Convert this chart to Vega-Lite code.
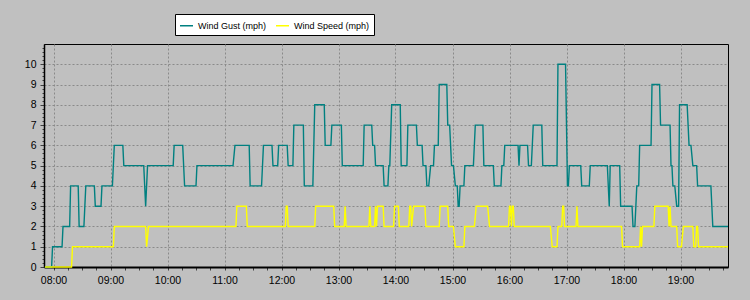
{
  "$schema": "https://vega.github.io/schema/vega-lite/v6.json",
  "width": 684,
  "height": 223,
  "autosize": {"type": "none"},
  "padding": {"left": 44, "top": 44, "right": 22, "bottom": 33},
  "background": "#c0c0c0",
  "config": {
    "view": {"stroke": "#000000", "strokeWidth": 1, "fill": "#c0c0c0"},
    "font": "Liberation Sans"
  },
  "datasets": {
    "gust": [
      {"t":"2024-01-01T07:51","v":0},{"t":"2024-01-01T07:58","v":0},{"t":"2024-01-01T07:59","v":1},{"t":"2024-01-01T08:09","v":1},{"t":"2024-01-01T08:10","v":2},{"t":"2024-01-01T08:17","v":2},{"t":"2024-01-01T08:18","v":4},{"t":"2024-01-01T08:26","v":4},{"t":"2024-01-01T08:27","v":2},{"t":"2024-01-01T08:32","v":2},{"t":"2024-01-01T08:33","v":3},{"t":"2024-01-01T08:34","v":4},{"t":"2024-01-01T08:43","v":4},{"t":"2024-01-01T08:44","v":3},{"t":"2024-01-01T08:50","v":3},{"t":"2024-01-01T08:51","v":4},{"t":"2024-01-01T09:02","v":4},{"t":"2024-01-01T09:04","v":6},{"t":"2024-01-01T09:13","v":6},{"t":"2024-01-01T09:14","v":5},{"t":"2024-01-01T09:35","v":5},{"t":"2024-01-01T09:36","v":4},{"t":"2024-01-01T09:37","v":3},{"t":"2024-01-01T09:39","v":5},{"t":"2024-01-01T10:06","v":5},{"t":"2024-01-01T10:07","v":6},{"t":"2024-01-01T10:16","v":6},{"t":"2024-01-01T10:18","v":4},{"t":"2024-01-01T10:30","v":4},{"t":"2024-01-01T10:31","v":5},{"t":"2024-01-01T11:09","v":5},{"t":"2024-01-01T11:11","v":6},{"t":"2024-01-01T11:26","v":6},{"t":"2024-01-01T11:27","v":4},{"t":"2024-01-01T11:39","v":4},{"t":"2024-01-01T11:41","v":6},{"t":"2024-01-01T11:50","v":6},{"t":"2024-01-01T11:51","v":5},{"t":"2024-01-01T11:56","v":5},{"t":"2024-01-01T11:57","v":6},{"t":"2024-01-01T12:06","v":6},{"t":"2024-01-01T12:07","v":5},{"t":"2024-01-01T12:12","v":5},{"t":"2024-01-01T12:13","v":7},{"t":"2024-01-01T12:23","v":7},{"t":"2024-01-01T12:24","v":4},{"t":"2024-01-01T12:33","v":4},{"t":"2024-01-01T12:35","v":8},{"t":"2024-01-01T12:45","v":8},{"t":"2024-01-01T12:46","v":6},{"t":"2024-01-01T12:52","v":6},{"t":"2024-01-01T12:53","v":7},{"t":"2024-01-01T13:03","v":7},{"t":"2024-01-01T13:04","v":5},{"t":"2024-01-01T13:26","v":5},{"t":"2024-01-01T13:27","v":7},{"t":"2024-01-01T13:35","v":7},{"t":"2024-01-01T13:36","v":6},{"t":"2024-01-01T13:38","v":6},{"t":"2024-01-01T13:39","v":5},{"t":"2024-01-01T13:47","v":5},{"t":"2024-01-01T13:48","v":4},{"t":"2024-01-01T13:52","v":4},{"t":"2024-01-01T13:53","v":5},{"t":"2024-01-01T13:54","v":5},{"t":"2024-01-01T13:56","v":8},{"t":"2024-01-01T14:05","v":8},{"t":"2024-01-01T14:06","v":5},{"t":"2024-01-01T14:12","v":5},{"t":"2024-01-01T14:13","v":7},{"t":"2024-01-01T14:22","v":7},{"t":"2024-01-01T14:23","v":6},{"t":"2024-01-01T14:28","v":6},{"t":"2024-01-01T14:29","v":5},{"t":"2024-01-01T14:32","v":5},{"t":"2024-01-01T14:33","v":4},{"t":"2024-01-01T14:35","v":4},{"t":"2024-01-01T14:37","v":5},{"t":"2024-01-01T14:40","v":5},{"t":"2024-01-01T14:41","v":6},{"t":"2024-01-01T14:45","v":6},{"t":"2024-01-01T14:46","v":9},{"t":"2024-01-01T14:54","v":9},{"t":"2024-01-01T14:55","v":7},{"t":"2024-01-01T14:57","v":7},{"t":"2024-01-01T14:59","v":5},{"t":"2024-01-01T15:01","v":5},{"t":"2024-01-01T15:03","v":4},{"t":"2024-01-01T15:05","v":4},{"t":"2024-01-01T15:06","v":3},{"t":"2024-01-01T15:07","v":3},{"t":"2024-01-01T15:08","v":4},{"t":"2024-01-01T15:12","v":4},{"t":"2024-01-01T15:13","v":5},{"t":"2024-01-01T15:22","v":5},{"t":"2024-01-01T15:24","v":7},{"t":"2024-01-01T15:32","v":7},{"t":"2024-01-01T15:33","v":5},{"t":"2024-01-01T15:43","v":5},{"t":"2024-01-01T15:44","v":4},{"t":"2024-01-01T15:51","v":4},{"t":"2024-01-01T15:52","v":5},{"t":"2024-01-01T15:54","v":5},{"t":"2024-01-01T15:55","v":6},{"t":"2024-01-01T16:09","v":6},{"t":"2024-01-01T16:10","v":5},{"t":"2024-01-01T16:11","v":6},{"t":"2024-01-01T16:19","v":6},{"t":"2024-01-01T16:20","v":5},{"t":"2024-01-01T16:23","v":5},{"t":"2024-01-01T16:25","v":7},{"t":"2024-01-01T16:34","v":7},{"t":"2024-01-01T16:35","v":5},{"t":"2024-01-01T16:50","v":5},{"t":"2024-01-01T16:51","v":10},{"t":"2024-01-01T16:59","v":10},{"t":"2024-01-01T17:01","v":4},{"t":"2024-01-01T17:02","v":4},{"t":"2024-01-01T17:03","v":5},{"t":"2024-01-01T17:15","v":5},{"t":"2024-01-01T17:16","v":4},{"t":"2024-01-01T17:24","v":4},{"t":"2024-01-01T17:25","v":5},{"t":"2024-01-01T17:43","v":5},{"t":"2024-01-01T17:45","v":3},{"t":"2024-01-01T17:46","v":5},{"t":"2024-01-01T17:56","v":5},{"t":"2024-01-01T17:57","v":3},{"t":"2024-01-01T18:09","v":3},{"t":"2024-01-01T18:10","v":2},{"t":"2024-01-01T18:12","v":2},{"t":"2024-01-01T18:13","v":3},{"t":"2024-01-01T18:14","v":4},{"t":"2024-01-01T18:16","v":4},{"t":"2024-01-01T18:17","v":6},{"t":"2024-01-01T18:29","v":6},{"t":"2024-01-01T18:30","v":9},{"t":"2024-01-01T18:38","v":9},{"t":"2024-01-01T18:39","v":7},{"t":"2024-01-01T18:49","v":7},{"t":"2024-01-01T18:50","v":5},{"t":"2024-01-01T18:51","v":5},{"t":"2024-01-01T18:52","v":4},{"t":"2024-01-01T18:54","v":4},{"t":"2024-01-01T18:56","v":3},{"t":"2024-01-01T18:58","v":3},{"t":"2024-01-01T18:59","v":8},{"t":"2024-01-01T19:07","v":8},{"t":"2024-01-01T19:09","v":6},{"t":"2024-01-01T19:11","v":6},{"t":"2024-01-01T19:13","v":5},{"t":"2024-01-01T19:17","v":5},{"t":"2024-01-01T19:18","v":4},{"t":"2024-01-01T19:32","v":4},{"t":"2024-01-01T19:34","v":2},{"t":"2024-01-01T19:50","v":2}
    ],
    "speed": [
      {"t":"2024-01-01T07:51","v":0},{"t":"2024-01-01T08:19","v":0},{"t":"2024-01-01T08:20","v":1},{"t":"2024-01-01T09:03","v":1},{"t":"2024-01-01T09:04","v":2},{"t":"2024-01-01T09:37","v":2},{"t":"2024-01-01T09:38","v":1},{"t":"2024-01-01T09:40","v":2},{"t":"2024-01-01T11:12","v":2},{"t":"2024-01-01T11:13","v":3},{"t":"2024-01-01T11:23","v":3},{"t":"2024-01-01T11:24","v":2},{"t":"2024-01-01T12:04","v":2},{"t":"2024-01-01T12:05","v":3},{"t":"2024-01-01T12:06","v":3},{"t":"2024-01-01T12:07","v":2},{"t":"2024-01-01T12:35","v":2},{"t":"2024-01-01T12:36","v":3},{"t":"2024-01-01T12:55","v":3},{"t":"2024-01-01T12:56","v":2},{"t":"2024-01-01T13:06","v":2},{"t":"2024-01-01T13:07","v":3},{"t":"2024-01-01T13:08","v":2},{"t":"2024-01-01T13:32","v":2},{"t":"2024-01-01T13:33","v":3},{"t":"2024-01-01T13:34","v":2},{"t":"2024-01-01T13:38","v":2},{"t":"2024-01-01T13:39","v":3},{"t":"2024-01-01T13:40","v":2},{"t":"2024-01-01T13:41","v":3},{"t":"2024-01-01T13:47","v":3},{"t":"2024-01-01T13:48","v":2},{"t":"2024-01-01T13:58","v":2},{"t":"2024-01-01T13:59","v":3},{"t":"2024-01-01T14:03","v":3},{"t":"2024-01-01T14:04","v":2},{"t":"2024-01-01T14:14","v":2},{"t":"2024-01-01T14:15","v":3},{"t":"2024-01-01T14:16","v":3},{"t":"2024-01-01T14:17","v":2},{"t":"2024-01-01T14:19","v":3},{"t":"2024-01-01T14:31","v":3},{"t":"2024-01-01T14:32","v":2},{"t":"2024-01-01T14:46","v":2},{"t":"2024-01-01T14:47","v":3},{"t":"2024-01-01T14:55","v":3},{"t":"2024-01-01T14:56","v":2},{"t":"2024-01-01T15:01","v":2},{"t":"2024-01-01T15:03","v":1},{"t":"2024-01-01T15:12","v":1},{"t":"2024-01-01T15:13","v":2},{"t":"2024-01-01T15:23","v":2},{"t":"2024-01-01T15:25","v":3},{"t":"2024-01-01T15:37","v":3},{"t":"2024-01-01T15:39","v":2},{"t":"2024-01-01T15:59","v":2},{"t":"2024-01-01T16:00","v":3},{"t":"2024-01-01T16:01","v":3},{"t":"2024-01-01T16:02","v":2},{"t":"2024-01-01T16:03","v":3},{"t":"2024-01-01T16:04","v":3},{"t":"2024-01-01T16:05","v":2},{"t":"2024-01-01T16:43","v":2},{"t":"2024-01-01T16:45","v":1},{"t":"2024-01-01T16:50","v":1},{"t":"2024-01-01T16:51","v":2},{"t":"2024-01-01T16:55","v":2},{"t":"2024-01-01T16:56","v":3},{"t":"2024-01-01T16:57","v":3},{"t":"2024-01-01T16:58","v":2},{"t":"2024-01-01T17:10","v":2},{"t":"2024-01-01T17:11","v":3},{"t":"2024-01-01T17:12","v":2},{"t":"2024-01-01T17:58","v":2},{"t":"2024-01-01T17:59","v":1},{"t":"2024-01-01T18:17","v":1},{"t":"2024-01-01T18:18","v":2},{"t":"2024-01-01T18:19","v":1},{"t":"2024-01-01T18:20","v":2},{"t":"2024-01-01T18:32","v":2},{"t":"2024-01-01T18:33","v":3},{"t":"2024-01-01T18:47","v":3},{"t":"2024-01-01T18:48","v":2},{"t":"2024-01-01T18:49","v":3},{"t":"2024-01-01T18:50","v":2},{"t":"2024-01-01T18:56","v":2},{"t":"2024-01-01T18:57","v":1},{"t":"2024-01-01T19:01","v":1},{"t":"2024-01-01T19:03","v":2},{"t":"2024-01-01T19:13","v":2},{"t":"2024-01-01T19:14","v":1},{"t":"2024-01-01T19:16","v":1},{"t":"2024-01-01T19:17","v":2},{"t":"2024-01-01T19:18","v":2},{"t":"2024-01-01T19:19","v":1},{"t":"2024-01-01T19:50","v":1}
    ]
  },
  "encoding": {
    "x": {
      "field": "t", "type": "temporal",
      "scale": {"domain": ["2024-01-01T07:50", "2024-01-01T19:50"], "nice": false},
      "axis": {
        "title": null, "tickCount": 48,
        "labelExpr": "minutes(datum.value) == 0 ? timeFormat(datum.value, '%H:%M') : ''",
        "labelOverlap": false, "labelFlush": false,
        "grid": true, "gridColor": "#8a8a8a", "gridDash": [2, 2], "gridWidth": 1,
        "gridOpacity": {"condition": {"test": "minutes(datum.value) == 0", "value": 1}, "value": 0},
        "domainColor": "#000000", "domainWidth": 2,
        "tickColor": "#404040", "tickSize": 3,
        "labelColor": "#000000", "labelFont": "Liberation Sans", "labelFontSize": 10.5, "labelPadding": 5
      }
    },
    "y": {
      "field": "v", "type": "quantitative",
      "scale": {"domain": [0, 11], "nice": false},
      "axis": {
        "title": null,
        "values": [0,0.2,0.4,0.6,0.8,1,1.2,1.4,1.6,1.8,2,2.2,2.4,2.6,2.8,3,3.2,3.4,3.6,3.8,4,4.2,4.4,4.6,4.8,5,5.2,5.4,5.6,5.8,6,6.2,6.4,6.6,6.8,7,7.2,7.4,7.6,7.8,8,8.2,8.4,8.6,8.8,9,9.2,9.4,9.6,9.8,10,10.2,10.4,10.6,10.8],
        "labelExpr": "datum.value % 1 == 0 ? format(datum.value, 'd') : ''",
        "labelOverlap": false,
        "grid": true, "gridColor": "#8a8a8a", "gridDash": [2, 2], "gridWidth": 1,
        "gridOpacity": {"condition": {"test": "datum.value % 1 == 0", "value": 1}, "value": 0},
        "domainColor": "#000000", "domainWidth": 1.5,
        "tickColor": "#404040",
        "tickSize": {"condition": {"test": "datum.value % 1 == 0", "value": 4}, "value": 2},
        "labelColor": "#000000", "labelFont": "Liberation Sans", "labelFontSize": 10.5, "labelPadding": 4
      }
    }
  },
  "layer": [
    {
      "data": {"name": "gust"},
      "mark": {"type": "line", "strokeWidth": 1.4},
      "encoding": {
        "color": {
          "datum": "Wind Gust (mph)", "type": "nominal",
          "scale": {"domain": ["Wind Gust (mph)", "Wind Speed (mph)"], "range": ["#008080", "#ffff00"]},
          "legend": {"title": null, "orient": "none", "legendX": 131, "legendY": -30, "direction": "horizontal", "fillColor": "#ffffff", "strokeColor": "#000000", "padding": 4, "symbolType": "stroke", "symbolSize": 169, "symbolStrokeWidth": 1.5, "labelFont": "Liberation Sans", "labelFontSize": 9, "labelColor": "#000000", "columnPadding": 6, "labelOffset": 4}
        }
      }
    },
    {
      "data": {"name": "speed"},
      "mark": {"type": "line", "strokeWidth": 1.4},
      "encoding": {
        "color": {"datum": "Wind Speed (mph)", "type": "nominal"}
      }
    }
  ]
}
